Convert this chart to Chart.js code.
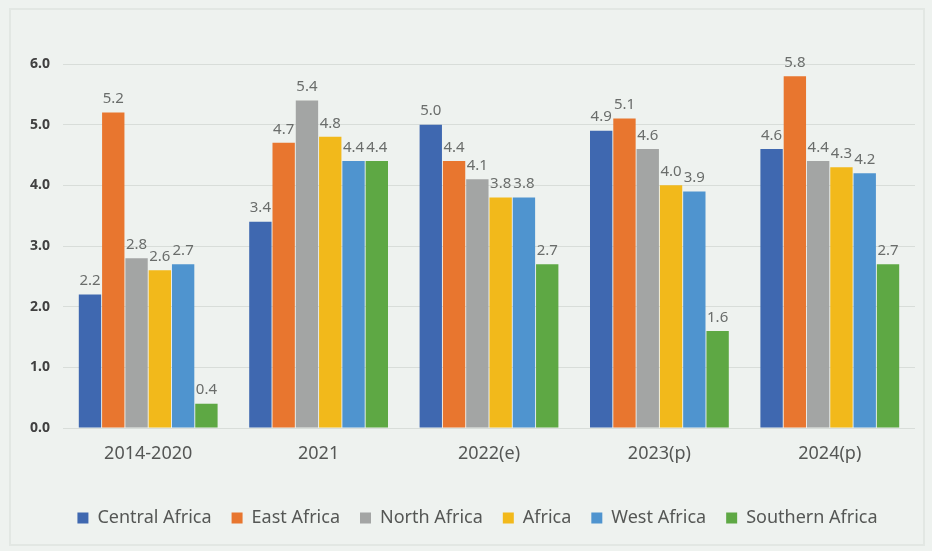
<!DOCTYPE html>
<html>
<head>
<meta charset="utf-8">
<script src="https://cdn.jsdelivr.net/npm/chart.js@4"></script>
<style>
  html, body { margin: 0; padding: 0; background: #ffffff; }
  #wrap { position: relative; width: 932px; height: 551px; background: #eef2ef; }
  #frame { position: absolute; left: 9px; top: 8px; right: 7px; bottom: 5px; border: 2px solid #e2e7e3; }
  canvas { position: absolute; left: 0; top: 0; }
</style>
</head>
<body>
<div id="wrap">
  <div id="frame"></div>
  <canvas id="chart" width="932" height="551"></canvas>
</div>
<script>
const periods = ["2014-2020", "2021", "2022(e)", "2023(p)", "2024(p)"];
const regions = ["Central Africa", "East Africa", "North Africa", "Africa", "West Africa", "Southern Africa"];
const colors = ["#3f68b0", "#e8762f", "#a3a5a4", "#f2b91b", "#4f94cf", "#5ea844"];

const centralAfrica = [2.2, 3.4, 5.0, 4.9, 4.6];
const eastAfrica = [5.2, 4.7, 4.4, 5.1, 5.8];
const northAfrica = [2.8, 5.4, 4.1, 4.6, 4.4];
const africa = [2.6, 4.8, 3.8, 4.0, 4.3];
const westAfrica = [2.7, 4.4, 3.8, 3.9, 4.2];
const southernAfrica = [0.4, 4.4, 2.7, 1.6, 2.7];

const series = [centralAfrica, eastAfrica, northAfrica, africa, westAfrica, southernAfrica];

// value labels above each bar
const barValues = {
  id: "barValues",
  afterDatasetsDraw(chart) {
    const ctx = chart.ctx;
    ctx.save();
    ctx.font = "15px 'Noto Sans'";
    ctx.fillStyle = "#6a6d6b";
    ctx.textAlign = "center";
    ctx.textBaseline = "bottom";
    chart.data.datasets.forEach((ds, i) => {
      chart.getDatasetMeta(i).data.forEach((bar, j) => {
        ctx.fillText(ds.data[j].toFixed(1), bar.x, bar.y - 6);
      });
    });
    ctx.restore();
  }
};

// legend sits a bit right of centre in the original
const legendShift = {
  id: "legendShift",
  afterLayout(chart) {
    chart.legend.left += 20;
    chart.legend.right += 20;
  }
};

new Chart(document.getElementById("chart").getContext("2d"), {
  type: "bar",
  data: {
    labels: periods,
    datasets: regions.map((r, i) => ({
      label: r,
      data: series[i],
      backgroundColor: colors[i],
      borderWidth: 0,
      barPercentage: 0.96,
      categoryPercentage: 0.82,
    })),
  },
  options: {
    responsive: false,
    animation: false,
    layout: { padding: { top: 64, right: 17, bottom: 14, left: 0 } },
    plugins: {
      tooltip: { enabled: false },
      legend: {
        position: "bottom",
        labels: {
          boxWidth: 11,
          boxHeight: 11,
          padding: 20,
          color: "#555755",
          font: { family: "'Noto Sans'", size: 18 },
        },
      },
    },
    scales: {
      x: {
        grid: { display: false },
        border: { display: false },
        ticks: { color: "#555755", padding: 7, font: { family: "'Noto Sans'", size: 18 } },
        afterFit(scale) { scale.height = 61; },
      },
      y: {
        min: 0,
        max: 6,
        grid: { color: "#d8ddd9", lineWidth: 1, drawTicks: false },
        border: { display: false },
        ticks: {
          stepSize: 1,
          padding: 13,
          color: "#404040",
          font: { family: "'Noto Sans'", size: 14, weight: "bold" },
          callback: (v) => v.toFixed(1),
        },
        afterFit(scale) { scale.width = 63; },
      },
    },
  },
  plugins: [barValues, legendShift],
});
</script>
</body>
</html>
